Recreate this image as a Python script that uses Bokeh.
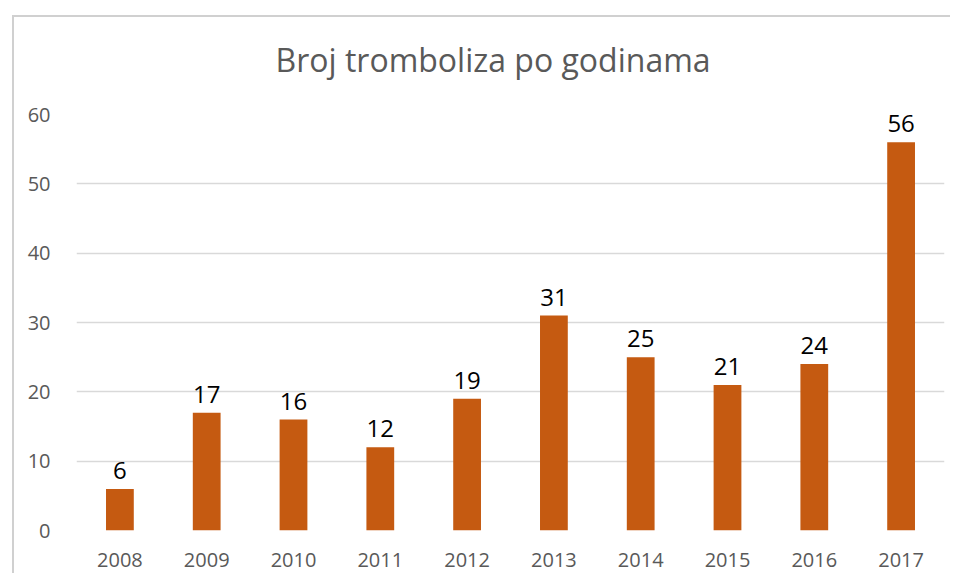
from bokeh.plotting import figure
from bokeh.models import ColumnDataSource, LabelSet, FixedTicker, Title
from bokeh.core.properties import value
from bokeh.embed import file_html
from bokeh.resources import INLINE

years = ["2008", "2009", "2010", "2011", "2012", "2013", "2014", "2015", "2016", "2017"]
counts = [6, 17, 16, 12, 19, 31, 25, 21, 24, 56]
y_ticks = [0, 10, 20, 30, 40, 50, 60]

FONT = "Open Sans"
GREY = "#595959"

src = ColumnDataSource(dict(year=years, count=counts, label=[str(c) for c in counts]))

p = figure(x_range=years, y_range=(0, 60), width=938, height=558,
           output_backend="svg", toolbar_location=None,
           title="Broj tromboliza po godinama",
           min_border_left=62, min_border_right=8, min_border_top=97, min_border_bottom=45,
           margin=(15, 0, 0, 12),
           styles={"border-left": "2px solid #d0d0d0", "border-top": "2px solid #d0d0d0"})

# empty spacer between the frame and the title
p.add_layout(Title(text=" ", text_font_size="1px", standoff=31), "above")

p.vbar(x="year", top="count", width=0.32, source=src, fill_color="#C55A11", line_color=None)

labels = LabelSet(x="year", y="count", text="label", source=src, text_align="center",
                  text_baseline="alphabetic", y_offset=10, text_font=value(FONT),
                  text_font_size=value("24px"), text_color=value("black"))
p.add_layout(labels)

p.title.text_font = FONT
p.title.text_font_size = "32px"
p.title.text_font_style = "normal"
p.title.text_color = GREY
p.title.align = "left"
p.title.offset = 199
p.title.standoff = 0

p.outline_line_color = None
p.background_fill_color = "white"
p.border_fill_color = "white"

p.xgrid.grid_line_color = None
p.ygrid.grid_line_color = "#d9d9d9"
p.ygrid.grid_line_width = 1.5

p.yaxis.ticker = FixedTicker(ticks=y_ticks)
for ax in (p.xaxis[0], p.yaxis[0]):
    ax.axis_line_color = None
    ax.major_tick_line_color = None
    ax.minor_tick_line_color = None
    ax.major_label_text_font = FONT
    ax.major_label_text_font_size = "20px"
    ax.major_label_text_color = GREY
p.yaxis.major_label_standoff = 20
p.xaxis.major_label_standoff = 16
p.x_range.range_padding = 0

open("out.html", "w").write(file_html(p, INLINE))
